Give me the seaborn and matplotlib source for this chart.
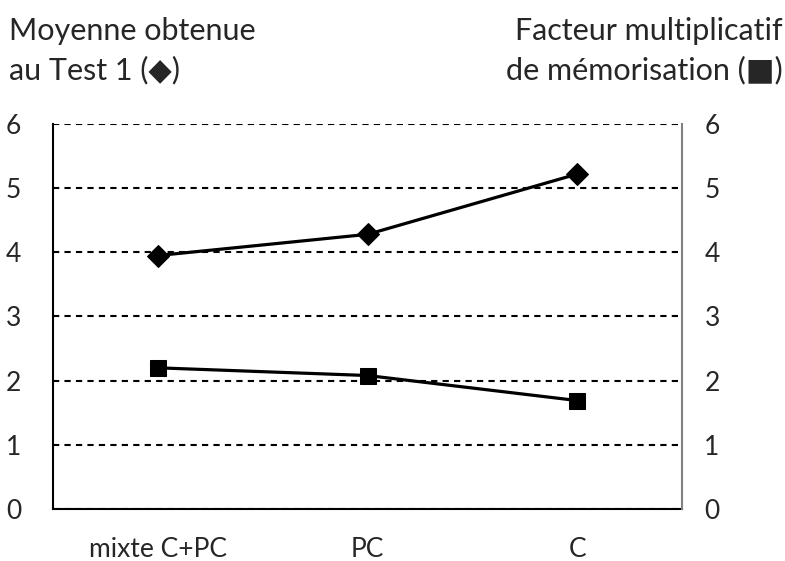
import matplotlib
matplotlib.use("Agg")
import matplotlib.pyplot as plt
import seaborn as sns
import pandas as pd

# données
categories = ["mixte C+PC", "PC", "C"]
moyenne_test1 = [3.95, 4.28, 5.22]
facteur_memo = [2.20, 2.08, 1.69]
yticks = [0, 1, 2, 3, 4, 5, 6]

sns.set_style("white")
plt.rcParams['font.family'] = ['Lato', 'DejaVu Sans']

df = pd.DataFrame({"cat": categories, "moy": moyenne_test1, "fac": facteur_memo})

fig = plt.figure(figsize=(7.85, 5.61), dpi=100)
ax = fig.add_axes([0.0675, 0.0927, 0.8015, 0.6863])
ax2 = ax.twinx()

sns.lineplot(data=df, x="cat", y="moy", ax=ax, color="black", lw=2.3,
             marker="D", markersize=11, markeredgecolor="black", sort=False)
sns.lineplot(data=df, x="cat", y="fac", ax=ax2, color="black", lw=2.3,
             marker="s", markersize=12, markeredgecolor="black", sort=False)

for a in (ax, ax2):
    a.set_ylim(0, 6)
    a.set_yticks(yticks)
    a.set_xlim(-0.5, 2.5)
    a.set_xlabel("")
    a.set_ylabel("")
    a.tick_params(axis="both", length=0, labelsize=19)
    a.spines["top"].set_visible(False)

ax.yaxis.grid(True, color="black", linestyle=(0, (3, 2.5)), lw=1.5)
ax.tick_params(axis="y", pad=34)
ax.tick_params(axis="x", pad=20)
ax2.tick_params(axis="y", pad=16)
for lab in ax.get_yticklabels():
    lab.set_horizontalalignment("left")

ax.spines["left"].set_color("black")
ax.spines["bottom"].set_color("black")
ax.spines["right"].set_visible(False)
ax2.spines["left"].set_visible(False)
ax2.spines["bottom"].set_visible(False)
ax2.spines["right"].set_color("#808080")
for s in ("left", "bottom"):
    ax.spines[s].set_linewidth(1.5)
ax2.spines["right"].set_linewidth(1.5)

fig.text(0.012, 0.97, "Moyenne obtenue\nau Test 1 (◆)", ha="left", va="top",
         fontsize=22, linespacing=1.45)
fig.text(0.997, 0.97, "Facteur multiplicatif\nde mémorisation (■)", ha="right", va="top",
         fontsize=22, linespacing=1.45)

fig.savefig("out.png", dpi=100)
